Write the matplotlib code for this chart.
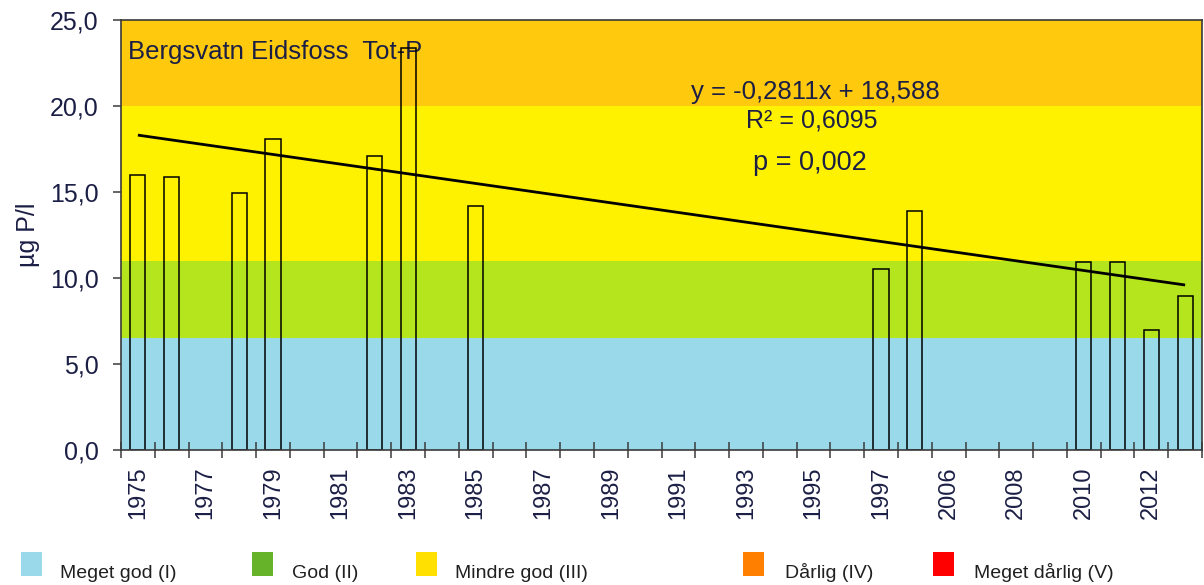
import numpy as np
import matplotlib
matplotlib.use("Agg")
import matplotlib.pyplot as plt
from matplotlib.patches import Rectangle

plt.rcParams["font.family"] = ["Liberation Sans", "DejaVu Sans"]

# categories on the x axis (index 23 has no visible label)
years = [str(y) for y in range(1975, 1998)] + ["2005"] + [str(y) for y in range(2006, 2014)]
tot_p = [16.0, 15.85, np.nan, 14.95, 18.1, np.nan, np.nan, 17.1, 23.4, np.nan,
         14.2, np.nan, np.nan, np.nan, np.nan, np.nan, np.nan, np.nan, np.nan, np.nan,
         np.nan, np.nan, 10.55, 13.9, np.nan, np.nan, np.nan, np.nan, 10.95, 10.95,
         6.95, 8.95]

# trend line shown in the chart (x = category number, 1-based)
slope = -0.2811
intercept = 18.588

# class limits and colours
band_limits = [0, 6.5, 11, 20, 25]
band_colors = ["#99D9EA", "#B5E61D", "#FFF200", "#FFC90E"]

legend_labels = ["Meget god (I)", "God (II)", "Mindre god (III)", "Dårlig (IV)", "Meget dårlig (V)"]
legend_colors = ["#99D9EA", "#66B32A", "#FFE000", "#FF8000", "#FF0000"]

TEXT = "#1c1f45"
AXIS = "#3a3a3a"

fig = plt.figure(figsize=(12.04, 5.85), dpi=100)
ax = fig.add_axes([121 / 1204, 1 - 450 / 585, 1081 / 1204, 430 / 585])

for lo, hi, c in zip(band_limits[:-1], band_limits[1:], band_colors):
    ax.axhspan(lo, hi, color=c, lw=0, zorder=0)

x = np.arange(len(years))
vals = np.array(tot_p, dtype=float)
mask = ~np.isnan(vals)
ax.bar(x[mask], vals[mask], width=0.45, facecolor="none", edgecolor="black",
       linewidth=1.1, zorder=3)

xt = np.array([0, len(years) - 1])
ax.plot(xt, slope * (xt + 1) + intercept, color="black", lw=2.0, zorder=4,
        solid_capstyle="butt")

ax.set_xlim(-0.5, len(years) - 0.5)
ax.set_ylim(0, 25)

ax.set_yticks(np.arange(0, 26, 5))
ax.set_yticklabels([f"{v:.1f}".replace(".", ",") for v in np.arange(0, 26, 5)])
ax.tick_params(axis="y", direction="out", length=6, width=1.1, color=AXIS,
               labelsize=18, labelcolor=TEXT, pad=10)

ax.set_xticks(x[::2])
ax.set_xticklabels(years[::2], rotation=90)
ax.set_xticks(np.arange(-0.5, len(years)), minor=True)
ax.tick_params(axis="x", which="major", length=0, labelsize=17, labelcolor=TEXT, pad=12)
ax.tick_params(axis="x", which="minor", direction="inout", length=12, width=1.1, color=AXIS)

for s in ax.spines.values():
    s.set_color(AXIS)
    s.set_linewidth(1.2)
    s.set_zorder(5)

ax.set_ylabel("µg P/l", fontsize=18, color=TEXT)
ax.yaxis.set_label_coords(-0.075, 0.5)

ax.text(0.0065, 0.926, "Bergsvatn Eidsfoss  Tot-P", transform=ax.transAxes,
        fontsize=18.5, color=TEXT, ha="left", va="center", zorder=2)
ax.text(0.642, 0.833, "y = -0,2811x + 18,588", transform=ax.transAxes, fontsize=18.5,
        color=TEXT, ha="center", va="center", zorder=6)
ax.text(0.639, 0.767, "R² = 0,6095", transform=ax.transAxes, fontsize=18,
        color=TEXT, ha="center", va="center", zorder=6)
ax.text(0.637, 0.667, "p = 0,002", transform=ax.transAxes, fontsize=19.5,
        color=TEXT, ha="center", va="center", zorder=6)

# legend row at the bottom
sq_x = [21, 252, 416, 743, 933]
txt_x = [60, 292, 455, 785, 974]
for sx, tx, lab, c in zip(sq_x, txt_x, legend_labels, legend_colors):
    fig.patches.append(Rectangle((sx / 1204, 1 - 576 / 585), 21 / 1204, 24 / 585,
                                 transform=fig.transFigure, facecolor=c,
                                 edgecolor="none"))
    fig.text(tx / 1204, 1 - 573 / 585, lab, fontsize=14, color="#202020",
             ha="left", va="center")

fig.savefig("out.png", dpi=100, facecolor="white")
